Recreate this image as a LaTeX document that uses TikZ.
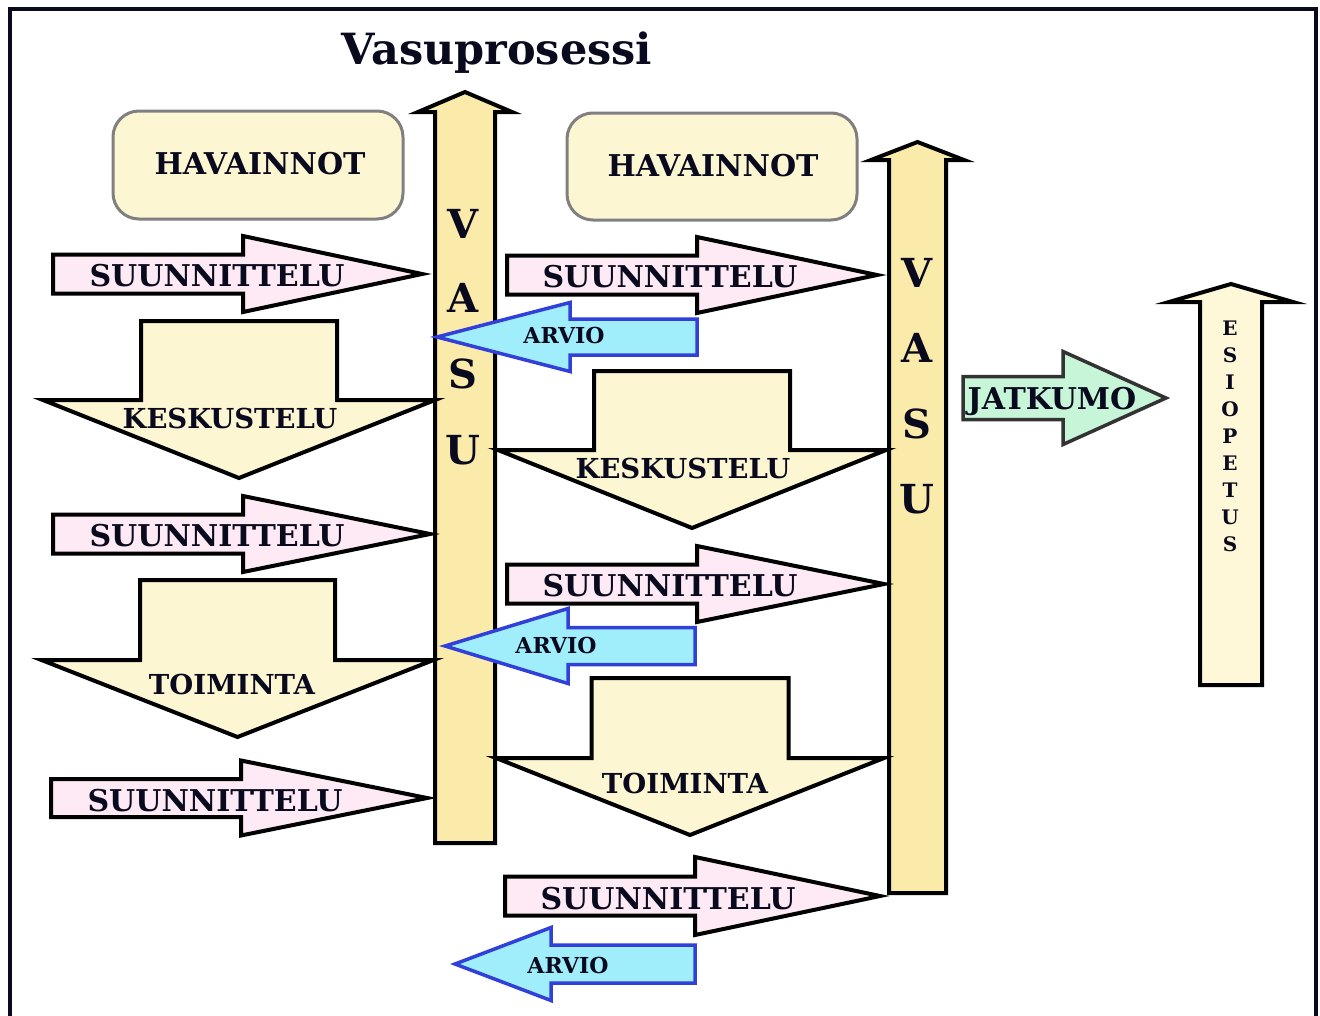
\documentclass[tikz,border=0pt]{standalone}
\usepackage{fontspec}
\setmainfont{DejaVu Serif}
\definecolor{pinkf}{RGB}{253,234,245}
\definecolor{yelf}{RGB}{253,246,210}
\definecolor{vasuf}{RGB}{251,235,170}
\definecolor{esif}{RGB}{254,248,216}
\definecolor{bluef}{RGB}{160,238,252}
\definecolor{bluel}{RGB}{48,64,216}
\definecolor{greenf}{RGB}{198,245,216}
\definecolor{boxl}{RGB}{128,128,128}
\definecolor{ink}{RGB}{10,10,30}
\newcommand\myHArrow[7]{\draw[#1] (#2,#5-#6) -- (#3,#5-#6) -- (#3,#5-#7) -- (#4,#5) -- (#3,#5+#7) -- (#3,#5+#6) -- (#2,#5+#6) -- cycle;}
\newcommand\myVArrow[7]{\draw[#1] (#2-#6,#3) -- (#2+#6,#3) -- (#2+#6,#4) -- (#2+#7,#4) -- (#2,#5) -- (#2-#7,#4) -- (#2-#6,#4) -- cycle;}
\tikzset{
  shp/.style={line width=4pt, draw=black, line join=miter},
  planarr/.style={shp, fill=pinkf},
  downarr/.style={shp, fill=yelf},
  vasuarr/.style={shp, fill=vasuf},
  esiarr/.style={shp, fill=esif},
  arvioarr/.style={line width=3.5pt, draw=bluel, fill=bluef},
  jatarr/.style={line width=3.5pt, draw=black!80, fill=greenf},
  havbox/.style={line width=3pt, draw=boxl, fill=yelf, rounded corners=26pt},
  lbl/.style={inner sep=0pt, text depth=0pt, text=ink, font=\bfseries\fontsize{30}{36}\selectfont},
  midlbl/.style={lbl, font=\bfseries\fontsize{27.5}{32}\selectfont},
  smalllbl/.style={lbl, font=\bfseries\fontsize{22}{26}\selectfont},
  vasulbl/.style={lbl, font=\bfseries\fontsize{40}{44}\selectfont},
  esilbl/.style={lbl, font=\bfseries\fontsize{20}{22}\selectfont},
}
\begin{document}
\begin{tikzpicture}[x=1pt,y=-1pt]
\useasboundingbox (0,0) rectangle (1320,1015);
\fill[white] (0,0) rectangle (1320,1015);
\draw[line width=3.5pt, draw=ink] (10,9) rectangle (1316,1040);
% title
\node[lbl, anchor=base, font=\bfseries\fontsize{43}{48}\selectfont] (title) at (497,64) {Vasuprosessi};
% havainnot boxes
\draw[havbox] (113,111) rectangle (403,219);
\node[lbl] (hav1) at (260,163) {HAVAINNOT};
\draw[havbox] (567,113) rectangle (857,220);
\node[lbl] (hav2) at (713,165) {HAVAINNOT};
% VASU arrows
\myVArrow{vasuarr}{465}{843}{112}{92}{30}{47}
\myVArrow{vasuarr}{917.5}{893}{160}{142}{28.5}{46.5}
\myVArrow{esiarr}{1231}{685}{302}{284}{31}{62}
\foreach \l/\y [count=\i] in {V/224,A/298,S/374,U/450}
  \node[vasulbl] (vasuA\i) at (463,\y) {\l};
\foreach \l/\y [count=\i] in {V/273,A/348,S/424,U/499}
  \node[vasulbl] (vasuB\i) at (917,\y) {\l};
\foreach \l/\y [count=\i] in {E/328,S/355,I/382,O/409,P/436,E/463,T/490,U/517,S/544}
  \node[esilbl] (esi\i) at (1230,\y) {\l};
% jatkumo
\myHArrow{jatarr}{963}{1063}{1166}{398}{21.5}{46.5}
\node[lbl] (jat) at (1052,398) {JATKUMO};
% down arrows
\myVArrow{downarr}{239}{321}{400}{478}{98}{196}
\node[midlbl] (kesk1) at (230,418) {KESKUSTELU};
\myVArrow{downarr}{692}{371}{450}{528}{98}{194}
\node[midlbl] (kesk2) at (683,468) {KESKUSTELU};
\myVArrow{downarr}{237.5}{580}{660}{737}{97.5}{196}
\node[midlbl] (toim1) at (232,684) {TOIMINTA};
\myVArrow{downarr}{690}{678}{758}{835}{98.5}{194}
\node[midlbl] (toim2) at (685,783) {TOIMINTA};
% suunnittelu arrows
\myHArrow{planarr}{53}{243}{422}{274}{19.5}{38}
\node[lbl] (suun1) at (217,275) {SUUNNITTELU};
\myHArrow{planarr}{53}{243}{430}{534}{19.5}{38}
\node[lbl] (suun2) at (217,535) {SUUNNITTELU};
\myHArrow{planarr}{51}{241}{427}{798}{19}{37.5}
\node[lbl] (suun3) at (215,800) {SUUNNITTELU};
\myHArrow{planarr}{507}{697}{877}{275}{19.5}{38}
\node[lbl] (suun4) at (670,276) {SUUNNITTELU};
\myHArrow{planarr}{507}{697}{884}{584}{19.5}{38}
\node[lbl] (suun5) at (670,585) {SUUNNITTELU};
\myHArrow{planarr}{505}{695}{880}{896}{19.5}{39}
\node[lbl] (suun6) at (668,898) {SUUNNITTELU};
% arvio arrows
\myHArrow{arvioarr}{697}{570}{437}{337}{18}{34.5}
\node[smalllbl] (arv1) at (564,335) {ARVIO};
\myHArrow{arvioarr}{695}{568}{445}{646}{18.5}{37.5}
\node[smalllbl] (arv2) at (556,645) {ARVIO};
\myHArrow{arvioarr}{695}{551}{455}{964}{19}{36.5}
\node[smalllbl] (arv3) at (568,965) {ARVIO};
\end{tikzpicture}
\end{document}
